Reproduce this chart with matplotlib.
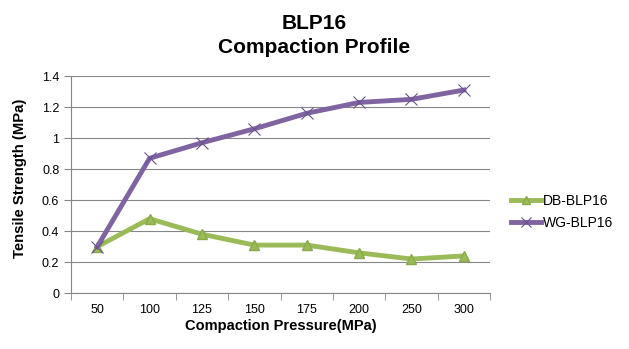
import matplotlib.pyplot as plt
import numpy as np

plt.rcParams['font.family'] = ['Liberation Sans', 'DejaVu Sans']

# compaction pressures (MPa) and tensile strengths (MPa)
pressures = ['50', '100', '125', '150', '175', '200', '250', '300']
db_blp16 = [0.30, 0.48, 0.38, 0.31, 0.31, 0.26, 0.22, 0.24]
wg_blp16 = [0.30, 0.87, 0.97, 1.06, 1.16, 1.23, 1.25, 1.31]

fig = plt.figure(figsize=(6.29, 3.49), dpi=100)
ax = fig.add_axes([0.113, 0.160, 0.666, 0.622])

x = np.arange(len(pressures))
ax.plot(x, db_blp16, color='#9BBB59', lw=3.5, marker='^', ms=7,
        mec='#8AAA4A', label='DB-BLP16', zorder=3)
ax.plot(x, wg_blp16, color='#8064A2', lw=3.5, marker='x', ms=9, mew=0.8,
        mec='#6A5290', label='WG-BLP16', zorder=3)

ax.set_xlim(-0.5, len(pressures) - 0.5)
ax.set_ylim(0, 1.4)
ax.set_yticks(np.arange(0, 1.41, 0.2))
ax.set_yticklabels(['0', '0.2', '0.4', '0.6', '0.8', '1', '1.2', '1.4'])
ax.set_xticks(x)
ax.set_xticklabels(pressures)
ax.set_xticks(np.arange(-0.5, len(pressures)), minor=True)
ax.tick_params(axis='x', which='major', length=0, labelsize=9, pad=8)
ax.tick_params(axis='x', which='minor', length=5, color='#868686')
ax.tick_params(axis='y', length=5, color='#868686', labelsize=9)
ax.grid(axis='y', color='#868686', lw=0.8)
ax.set_axisbelow(True)
for side in ['top', 'right']:
    ax.spines[side].set_visible(False)
for side in ['left', 'bottom']:
    ax.spines[side].set_color('#868686')

ax.set_xlabel('Compaction Pressure(MPa)', fontsize=10.5, fontweight='bold', labelpad=2)
ax.set_ylabel('Tensile Strength (MPa)', fontsize=10.7, fontweight='bold')
ax.yaxis.set_label_coords(-0.105, 0.53)

# two-line chart title
fig.text(0.5, 0.916, 'BLP16', ha='center', va='baseline',
         fontsize=15, fontweight='bold')
fig.text(0.5, 0.847, 'Compaction Profile', ha='center', va='baseline',
         fontsize=15, fontweight='bold')

ax.legend(loc='center left', bbox_to_anchor=(1.02, 0.375), frameon=False,
          fontsize=10, handlelength=2.2, handletextpad=0.1, labelspacing=0.6,
          markerscale=0.8)

fig.savefig('out.png', dpi=100)
